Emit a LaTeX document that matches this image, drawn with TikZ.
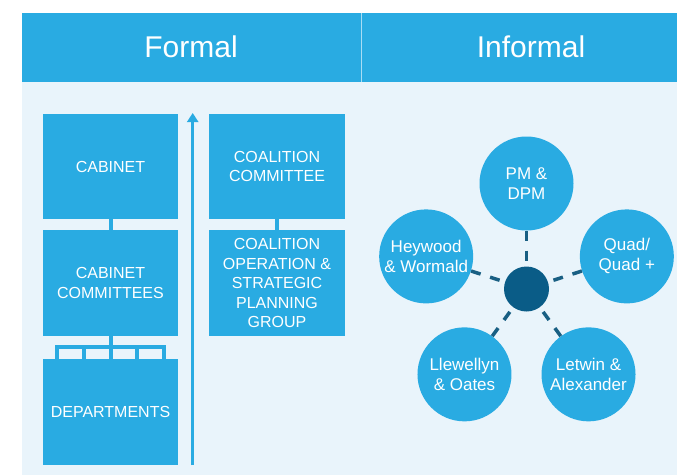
\documentclass[tikz,border=0pt]{standalone}
\usepackage{fontspec}
\setmainfont{Liberation Sans}
\usetikzlibrary{arrows.meta,calc}
\definecolor{mainblue}{HTML}{29ABE2}
\definecolor{lightbg}{HTML}{E9F4FB}
\definecolor{hubblue}{HTML}{0A5C87}
\definecolor{dashblue}{HTML}{195F83}
\begin{document}
\begin{tikzpicture}[x=1pt,y=1pt,
  boxnode/.style={fill=mainblue,draw=none,minimum width=135pt,minimum height=105pt,inner sep=0pt,
    text=white,align=center,font=\fontsize{16}{19.5}\selectfont},
  circnode/.style={circle,fill=mainblue,draw=none,minimum size=94pt,inner sep=0pt,
    text=white,align=center,font=\fontsize{17}{20}\selectfont},
  hubnode/.style={circle,fill=hubblue,draw=none,minimum size=45pt,inner sep=0pt},
  linkline/.style={draw=mainblue,line width=4pt},
  dashline/.style={draw=dashblue,line width=3.5pt,dash pattern=on 10pt off 10pt},
  headtext/.style={text=white,font=\fontsize{30}{34}\selectfont}]
\useasboundingbox (0,0) rectangle (677,475);
\fill[white] (0,0) rectangle (677,475);
% backgrounds
\fill[lightbg] (22,0) rectangle (677,393);
\fill[mainblue] (22,393) rectangle (677,462);
\draw[white!60!mainblue,line width=0.8pt] (361,393) -- (361,462);
\node[headtext] (hformal) at (191,428) {Formal};
\node[headtext] (hinformal) at (531,428) {Informal};
% formal boxes
\node[boxnode] (cab) at (110.5,308.5) {CABINET};
\node[boxnode,minimum height=106pt] (cabc) at (110.5,192) {CABINET\\COMMITTEES};
\node[boxnode,minimum height=106pt] (dep) at (110.5,63) {DEPARTMENTS};
\node[boxnode,minimum width=136pt] (coal) at (277,308.5) {COALITION\\COMMITTEE};
\node[boxnode,minimum width=136pt,minimum height=106pt] (cospg) at (277,192) {COALITION\\OPERATION \&\\STRATEGIC\\PLANNING\\GROUP};
% connectors
\draw[linkline] (cab.south) -- (cabc.north);
\draw[linkline] (coal.south) -- (cospg.north);
\coordinate (bl) at (57,128);
\coordinate (br) at (164,128);
\coordinate (b2) at (84,128);
\coordinate (b4) at (137,128);
\draw[linkline] (cabc.south) -- (cabc.south |- bl);
\draw[linkline] ([xshift=-2pt]bl) -- ([xshift=2pt]br);
\foreach \c in {bl,b2,b4,br}{\draw[linkline] (\c) -- (dep.north -| \c);}
\draw[linkline] (cabc.south |- bl) -- (dep.north);
% arrow
\coordinate (abot) at (192.7,10);
\coordinate (atop) at (192.7,362);
\draw[draw=mainblue,line width=3.5pt,-{Triangle[width=11pt,length=9pt]}] (abot) -- (atop);
% informal
\node[hubnode] (hub) at (526.5,186) {};
\node[circnode] (pm) at ($(hub)+(90:105.5pt)$) {PM \&\\DPM};
\node[circnode] (hey) at ($(hub)+(162:105.5pt)$) {Heywood\\\& Wormald};
\node[circnode] (llew) at ($(hub)+(234:105.5pt)$) {Llewellyn\\\& Oates};
\node[circnode] (let) at ($(hub)+(306:105.5pt)$) {Letwin \&\\Alexander};
\node[circnode] (quad) at ($(hub)+(18:105.5pt)$) {Quad/\\Quad +};
\foreach \n in {pm,hey,llew,let,quad}{\draw[dashline] (\n) -- (hub);}
\end{tikzpicture}
\end{document}
